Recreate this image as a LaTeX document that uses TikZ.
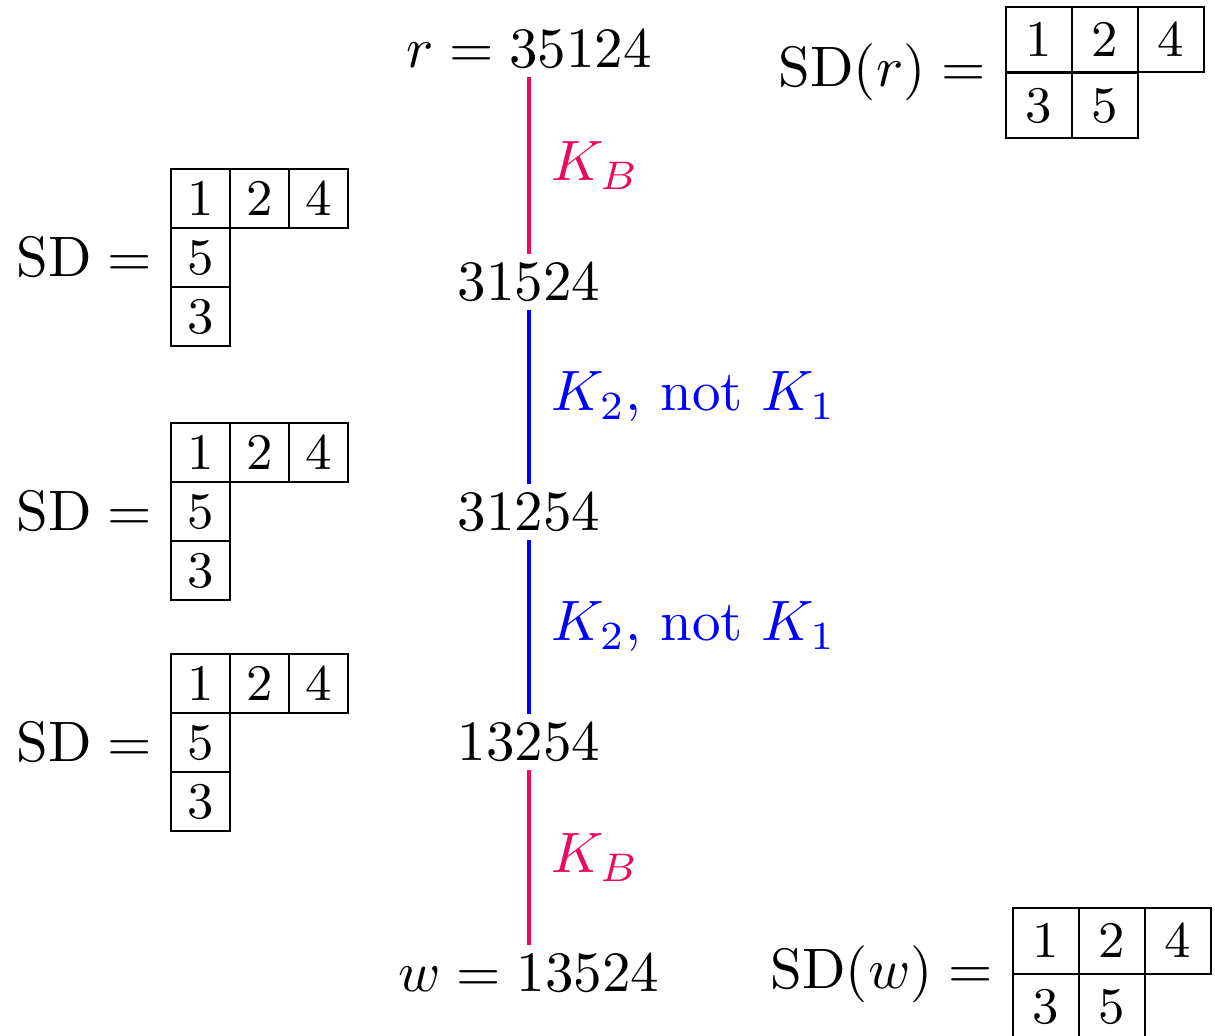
\documentclass[tikz,border=0pt]{standalone}
\usepackage{amsmath}
\usetikzlibrary{positioning}
\definecolor{kbred}{RGB}{235,10,95}
\tikzset{
  word/.style={font=\normalsize, inner sep=1.5pt},
  sdlabel/.style={font=\normalsize, inner sep=0pt, anchor=east},
  cell/.style={draw, line width=0.35pt, minimum size=10.35pt, inner sep=0pt,
    font=\small},
  bigcell/.style={cell, minimum size=11.55pt},
  % Stili per i collegamenti
  kbedge/.style={kbred, line width=0.7pt},
  kedge/.style={blue, line width=0.7pt},
  edgelabel/.style={font=\normalsize, midway, right=0.3pt}
}

\begin{document}
\begin{tikzpicture}[x=0.17544pt, y=-0.17544pt]
\useasboundingbox (0,0) rectangle (1215,1036);

% Catena centrale delle parole
\node[word] (r) at (529,49) {$r = 35124$};
\node[word] (u1) at (529,282) {$31524$};
\node[word] (u2) at (529,512) {$31254$};
\node[word] (u3) at (529,742) {$13254$};
\node[word] (w) at (529,973) {$w = 13524$};

\draw[kbedge] (r) -- node[edgelabel, text=kbred] {$K_B$} (u1);
\draw[kedge] (u1) -- node[edgelabel, text=blue] {$K_2$, not $K_1$} (u2);
\draw[kedge] (u2) -- node[edgelabel, text=blue] {$K_2$, not $K_1$} (u3);
\draw[kbedge] (u3) -- node[edgelabel, text=kbred] {$K_B$} (w);

% Tableaux a sinistra
\foreach \y/\t in {257.5/a, 511.5/b, 742.5/c} {
  \node[sdlabel] (sd\t) at (153,\y) {$\mathrm{SD} =$};
  \foreach \n [count=\i] in {1,2,4}
    \node[cell] (\t\n) at ({141.5+59*\i},{\y-59}) {$\n$};
  \node[cell] (\t5) at (200.5,\y) {$5$};
  \node[cell] (\t3) at (200.5,{\y+59}) {$3$};
}

% Tableaux a destra: SD(r) e SD(w)
\foreach \x/\y/\t/\s in {1006/72.5/p/r, 1013/974/q/w} {
  \node[sdlabel] (sd\t) at ({\x-19},\y) {$\mathrm{SD}(\s) =$};
  \foreach \n [count=\i] in {1,2,4}
    \node[bigcell] (\t\n) at ({\x-33+66*\i},{\y-33}) {$\n$};
  \node[bigcell] (\t3) at ({\x+33},{\y+33}) {$3$};
  \node[bigcell] (\t5) at ({\x+99},{\y+33}) {$5$};
}

\end{tikzpicture}
\end{document}
